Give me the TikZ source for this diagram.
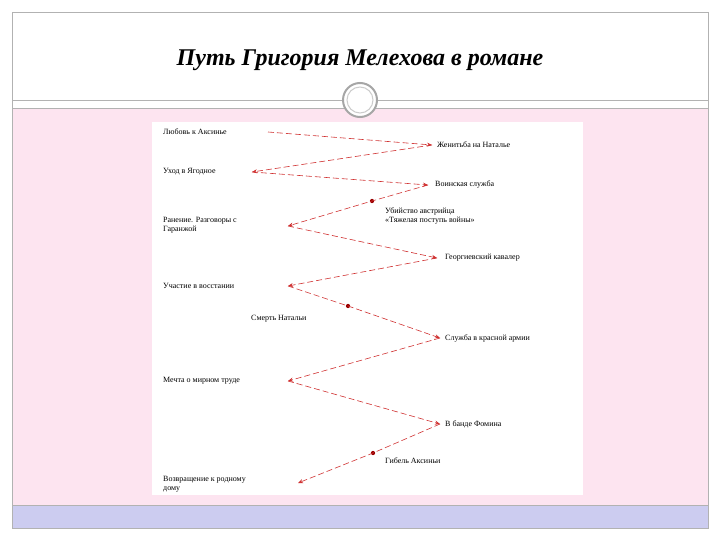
\documentclass[tikz,border=0pt]{standalone}
\usepackage{fontspec}
\setmainfont{Liberation Serif}
\usetikzlibrary{arrows.meta}
\definecolor{pinkbg}{HTML}{FDE4F0}
\definecolor{lav}{HTML}{CCCCF0}
\definecolor{lr}{HTML}{D03030}
\begin{document}
\begin{tikzpicture}[x=1pt,y=-1pt,
 lbl/.style={font=\fontsize{8}{9}\selectfont,anchor=west,inner sep=1pt,align=left},
 con/.style={draw=lr,dashed,dash pattern=on 6pt off 3pt,line width=0.6pt,-{Stealth[length=5pt,width=4pt]}},
 dotp/.style={circle,fill=red!60!black,inner sep=1.5pt}]
\useasboundingbox (0,0) rectangle (720,540);
\fill[white] (0,0) rectangle (720,540);
\fill[pinkbg] (12,108) rectangle (708,528);
\fill[lav] (12,505) rectangle (708,528);
\draw[gray!60] (12,12) rectangle (708,528);
\draw[gray!60] (12,100) -- (708,100);
\draw[gray!60] (12,108) -- (708,108);
\draw[gray!60] (12,505) -- (708,505);
\fill[white] (152,122) rectangle (583,495);
\node[font=\bfseries\itshape\fontsize{24}{28}\selectfont] (title) at (360,60) {Путь Григория Мелехова в романе};
\draw[gray!70,line width=2pt,fill=white] (360,100) circle (17);
\draw[gray!40,line width=1pt] (360,100) circle (13);
% points
\coordinate (L1) at (268,132); \coordinate (L2) at (252,172);
\coordinate (L3) at (288,226); \coordinate (L4) at (288,286);
\coordinate (L5) at (288,381); \coordinate (L6) at (298,483);
\coordinate (R1) at (432,145); \coordinate (R2) at (428,185);
\coordinate (R3) at (437,258); \coordinate (R4) at (440,338);
\coordinate (R5) at (440,424);
\node[dotp] (M1) at (372,201) {};
\node[dotp] (M2) at (348,306) {};
\node[dotp] (M3) at (373,453) {};
\node[lbl] at (162,132) {Любовь к Аксинье};
\node[lbl] at (162,172) {Уход в Ягодное};
\node[lbl,anchor=north west] at (162,216) {Ранение. Разговоры с\\Гаранжой};
\node[lbl] at (162,286) {Участие в восстании};
\node[lbl] at (162,381) {Мечта о мирном труде};
\node[lbl,anchor=north west] at (162,475) {Возвращение к родному\\дому};
\node[lbl] at (436,145) {Женитьба на Наталье};
\node[lbl] at (434,185) {Воинская служба};
\node[lbl] at (444,258) {Георгиевский кавалер};
\node[lbl] at (444,338) {Служба в красной армии};
\node[lbl] at (444,424) {В банде Фомина};
\node[lbl,anchor=north west] at (384,207) {Убийство австрийца\\«Тяжелая поступь войны»};
\node[lbl] at (250,319) {Смерть Натальи};
\node[lbl] at (384,461) {Гибель Аксиньи};
\draw[con] (L1) -- (R1);
\draw[con] (R1) -- (L2);
\draw[con] (L2) -- (R2);
\draw[con] (R2) -- (M1.center) -- (L3);
\draw[con] (L3) -- (R3);
\draw[con] (R3) -- (L4);
\draw[con] (L4) -- (M2.center) -- (R4);
\draw[con] (R4) -- (L5);
\draw[con] (L5) -- (R5);
\draw[con] (R5) -- (M3.center) -- (L6);
\end{tikzpicture}
\end{document}
